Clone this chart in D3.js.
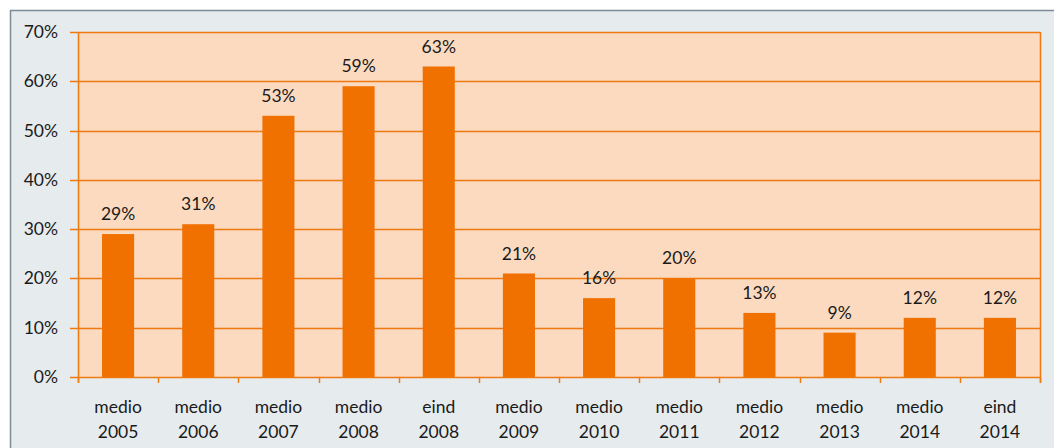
<!DOCTYPE html>
<html><head><meta charset="utf-8">
<script src="https://cdn.jsdelivr.net/npm/d3@7"></script>
<style>body{margin:0;background:#fff}svg{display:block}text{font-family:Lato,"Open Sans",sans-serif;fill:#1a1a1a}</style>
</head><body>
<svg id="c" width="1054" height="448"></svg>
<script>
const categories = [["medio","2005"],["medio","2006"],["medio","2007"],["medio","2008"],["eind","2008"],["medio","2009"],["medio","2010"],["medio","2011"],["medio","2012"],["medio","2013"],["medio","2014"],["eind","2014"]];
const values = [29,31,53,59,63,21,16,20,13,9,12,12];
const yTicks = [0,10,20,30,40,50,60,70];

const svg = d3.select("#c");
const L=78,R=1040,T=32,B=377;
svg.append("rect").attr("x",0).attr("y",0).attr("width",1054).attr("height",448).attr("fill","#fff");
svg.append("rect").attr("x",10.5).attr("y",10.5).attr("width",1060).attr("height",450).attr("fill","#E6EBEE").attr("stroke","#7D8C96").attr("stroke-width",1.5);
svg.append("rect").attr("x",L).attr("y",T).attr("width",R-L).attr("height",B-T).attr("fill","#FBDAC0");

const x = d3.scaleBand().domain(d3.range(categories.length)).range([L,R]).paddingInner(0.6).paddingOuter(0.3);
const y = d3.scaleLinear().domain([0,70]).range([B,T]);

svg.append("g").selectAll("line").data(yTicks).join("line")
  .attr("x1",L-8).attr("x2",R).attr("y1",d=>Math.round(y(d))+0.5).attr("y2",d=>Math.round(y(d))+0.5)
  .attr("stroke","#F07A12").attr("stroke-width",1.5);
svg.append("line").attr("x1",R+0.5).attr("x2",R+0.5).attr("y1",T).attr("y2",B+6).attr("stroke","#F07A12").attr("stroke-width",1.5);
svg.append("line").attr("x1",L+0.5).attr("x2",L+0.5).attr("y1",T).attr("y2",B+6).attr("stroke","#F07A12").attr("stroke-width",1.5);

svg.append("g").selectAll("rect").data(values).join("rect")
  .attr("x",(d,i)=>x(i)).attr("width",x.bandwidth()).attr("y",d=>y(d)).attr("height",d=>B-y(d)).attr("fill","#F07000");

const step = (R-L)/categories.length;
svg.append("g").selectAll("line").data(d3.range(categories.length+1)).join("line")
  .attr("x1",i=>Math.round(L+i*step)+0.5).attr("x2",i=>Math.round(L+i*step)+0.5).attr("y1",B).attr("y2",B+6)
  .attr("stroke","#F07A12").attr("stroke-width",1.5);

svg.append("g").selectAll("text").data(values).join("text")
  .attr("x",(d,i)=>x(i)+x.bandwidth()/2).attr("y",d=>y(d)-14).attr("text-anchor","middle")
  .attr("font-size",17.5).text(d=>d+"%");

svg.append("g").selectAll("text").data(yTicks).join("text")
  .attr("x",58).attr("y",d=>y(d)+6).attr("text-anchor","end").attr("font-size",17.5).text(d=>d+"%");

const xl = svg.append("g").selectAll("text").data(categories).join("text")
  .attr("text-anchor","middle").attr("font-size",17.5);
xl.append("tspan").attr("x",(d,i)=>x(i)+x.bandwidth()/2).attr("y",413).text(d=>d[0]);
xl.append("tspan").attr("x",(d,i)=>x(i)+x.bandwidth()/2).attr("y",438).text(d=>d[1]);
</script>
</body></html>
